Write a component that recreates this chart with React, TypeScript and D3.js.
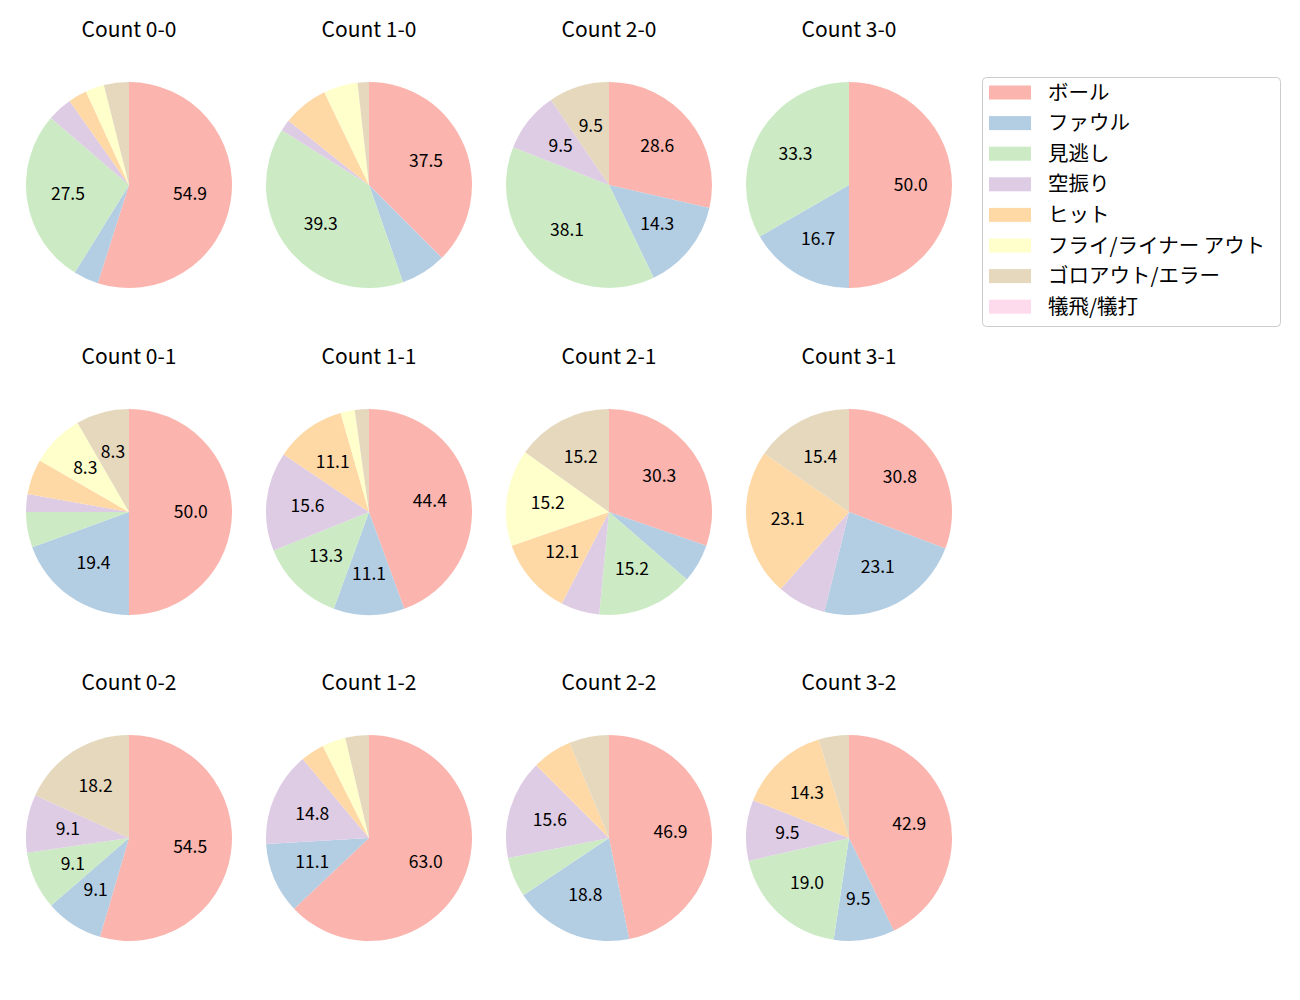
import React from "react";
import * as d3 from "d3";

const categories = ["ボール", "ファウル", "見逃し", "空振り", "ヒット", "フライ/ライナー アウト", "ゴロアウト/エラー", "犠飛/犠打"];
const colors = ["#fbb4ae", "#b3cde3", "#ccebc5", "#decbe4", "#fed9a6", "#ffffcc", "#e5d8bd", "#fddaec"];
const panelTitles = [
  "Count 0-0", "Count 1-0", "Count 2-0", "Count 3-0",
  "Count 0-1", "Count 1-1", "Count 2-1", "Count 3-1",
  "Count 0-2", "Count 1-2", "Count 2-2", "Count 3-2",
];
const panelValues: number[][] = [
  [56, 4, 28, 4, 3, 3, 4, 0],
  [21, 4, 22, 1, 4, 3, 1, 0],
  [6, 3, 8, 2, 0, 0, 2, 0],
  [3, 1, 2, 0, 0, 0, 0, 0],
  [18, 7, 2, 1, 2, 3, 3, 0],
  [20, 5, 6, 7, 5, 1, 1, 0],
  [10, 2, 5, 2, 4, 5, 5, 0],
  [4, 3, 0, 1, 3, 0, 2, 0],
  [6, 1, 1, 1, 0, 0, 2, 0],
  [17, 3, 0, 4, 1, 1, 1, 0],
  [15, 6, 2, 5, 2, 0, 2, 0],
  [9, 2, 4, 2, 3, 0, 1, 0],
];

const FONT = "'Noto Sans CJK JP', 'Noto Sans', sans-serif";

export default function App() {
  const W = 1300, H = 1000;
  const colX = [129, 369, 609, 849];
  const rowY = [185, 512, 838];
  const R = 103;
  const pie = d3.pie<number>().sort(null).startAngle(0).endAngle(2 * Math.PI);
  const arc = d3.arc<d3.PieArcDatum<number>>().innerRadius(0).outerRadius(R);
  const labelArc = d3.arc<d3.PieArcDatum<number>>().innerRadius(R * 0.6).outerRadius(R * 0.6);

  return (
    <svg width={W} height={H} style={{ position: "absolute", left: 0, top: 0, background: "#fff" }} fontFamily={FONT}>
      {panelValues.map((vals, i) => {
        const cx = colX[i % 4];
        const cy = rowY[Math.floor(i / 4)];
        const total = d3.sum(vals);
        const arcs = pie(vals);
        return (
          <g key={i} transform={`translate(${cx},${cy})`}>
            <text x={0} y={-R - 45} textAnchor="middle" fontSize={21} fill="#000">{panelTitles[i]}</text>
            {arcs.map((a, j) => a.value > 0 ? (
              <path key={j} d={arc(a) || ""} fill={colors[j]} />
            ) : null)}
            {arcs.map((a, j) => {
              const pct = (a.value / total) * 100;
              if (pct < 8) return null;
              const [lx, ly] = labelArc.centroid(a);
              return (
                <text key={"l" + j} x={lx} y={ly - 1.5} dominantBaseline="central" textAnchor="middle" fontSize={17.5} fill="#000">
                  {pct.toFixed(1)}
                </text>
              );
            })}
          </g>
        );
      })}
      <g>
        <rect x={982.5} y={77.5} width={298} height={249} rx={4} fill="#fff" stroke="#ccc" strokeWidth={1} />
        {categories.map((c, k) => (
          <g key={c} transform={`translate(0,${92.5 + k * 30.6})`}>
            <rect x={989} y={-7} width={42} height={14} fill={colors[k]} />
            <text x={1048} y={-2} dominantBaseline="central" fontSize={20.5} fill="#000">{c}</text>
          </g>
        ))}
      </g>
    </svg>
  );
}
